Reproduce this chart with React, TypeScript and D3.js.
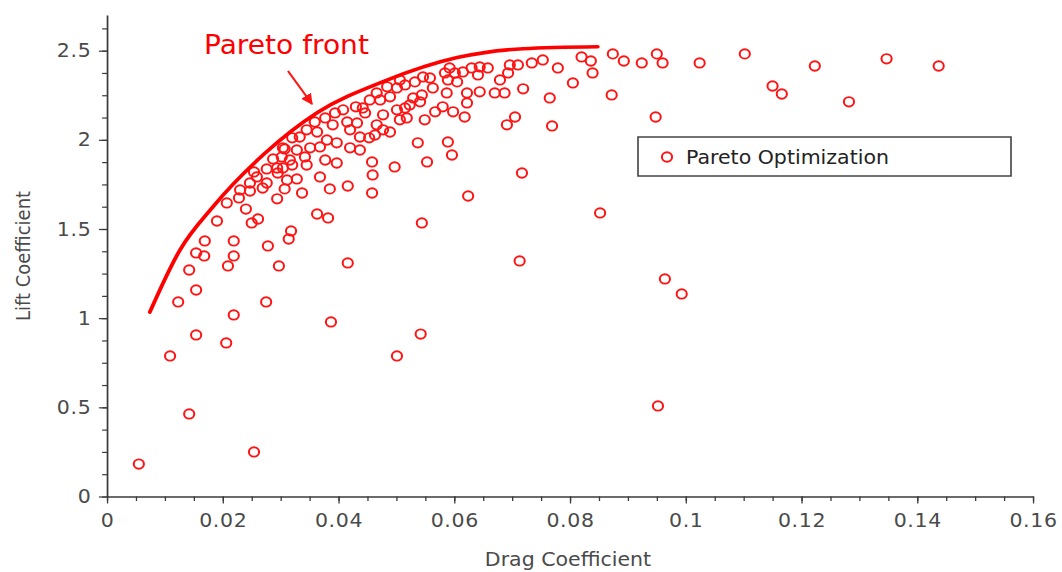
import React, { useEffect, useRef } from "react";
import * as d3 from "d3";

// Evaluated designs: drag coefficient vs lift coefficient
const dragCoefficient = [
  0.0055, 0.0142, 0.0254, 0.0109, 0.0154, 0.0206, 0.0219, 0.0123, 0.0154, 0.0275,
  0.0387, 0.0501, 0.0542, 0.0952, 0.0964, 0.0993, 0.0713, 0.0416, 0.0297, 0.0209,
  0.0142, 0.0154, 0.0168, 0.0169, 0.0219, 0.0219, 0.0278, 0.0314, 0.0318, 0.019,
  0.025, 0.0261, 0.024, 0.0207, 0.0228, 0.0363, 0.0382, 0.0544, 0.0852, 0.0624,
  0.0717, 0.0294, 0.023, 0.0247, 0.0247, 0.0269, 0.0276, 0.0307, 0.0311, 0.0254,
  0.0276, 0.0294, 0.0295, 0.0287, 0.0302, 0.0307, 0.0259, 0.0328, 0.0337, 0.0368,
  0.0385, 0.0416, 0.0458, 0.0459, 0.0497, 0.0458, 0.042, 0.0437, 0.0377, 0.0397,
  0.0345, 0.0363, 0.038, 0.0397, 0.0368, 0.0351, 0.0328, 0.0342, 0.0316, 0.0304,
  0.032, 0.0408, 0.043, 0.0446, 0.0466, 0.0484, 0.0501, 0.0515, 0.0472, 0.0489,
  0.0454, 0.0394, 0.0377, 0.0359, 0.0345, 0.0333, 0.032, 0.0304, 0.0415, 0.0432,
  0.042, 0.0437, 0.0453, 0.0466, 0.0477, 0.0489, 0.0463, 0.0477, 0.0442, 0.0501,
  0.0506, 0.0518, 0.0515, 0.0506, 0.0532, 0.0546, 0.0558, 0.0584, 0.0592, 0.0601,
  0.0605, 0.0589, 0.0615, 0.063, 0.0644, 0.0641, 0.0658, 0.0696, 0.071, 0.0693,
  0.0679, 0.0734, 0.0753, 0.0544, 0.0529, 0.0541, 0.0563, 0.0523, 0.0549, 0.0567,
  0.058, 0.0598, 0.0618, 0.0622, 0.0622, 0.0644, 0.067, 0.0687, 0.0719, 0.0587,
  0.0705, 0.0691, 0.0765, 0.0537, 0.0589, 0.0596, 0.0769, 0.0553, 0.0779, 0.082,
  0.0836, 0.0839, 0.0805, 0.0874, 0.0893, 0.0924, 0.095, 0.096, 0.0872, 0.0948,
  0.1024, 0.1102, 0.115, 0.1166, 0.1223, 0.1282, 0.1347, 0.1437, 0.039,
];
const liftCoefficient = [
  0.182, 0.463, 0.25, 0.788, 0.906, 0.861, 1.018, 1.091, 1.158, 1.091,
  0.979, 0.788, 0.911, 0.508, 1.22, 1.136, 1.321, 1.31, 1.293, 1.293,
  1.27, 1.366, 1.349, 1.433, 1.349, 1.433, 1.405, 1.444, 1.489, 1.545,
  1.534, 1.556, 1.612, 1.646, 1.674, 1.584, 1.562, 1.534, 1.59, 1.685,
  1.814, 1.669, 1.719, 1.713, 1.758, 1.73, 1.758, 1.725, 1.775, 1.82,
  1.837, 1.842, 1.814, 1.893, 1.904, 1.949, 1.792, 1.781, 1.702, 1.792,
  1.725, 1.741, 1.702, 1.803, 1.848, 1.876, 1.955, 1.943, 1.887, 1.87,
  1.859, 2.044, 1.999, 1.983, 1.96, 1.955, 1.943, 1.904, 1.887, 1.842,
  1.859, 2.168, 2.185, 2.151, 2.263, 2.297, 2.291, 2.308, 2.224, 2.241,
  2.224, 2.151, 2.123, 2.1, 2.056, 2.016, 2.011, 1.955, 2.1, 2.095,
  2.056, 2.016, 2.011, 2.084, 2.056, 2.044, 2.027, 2.14, 2.179, 2.168,
  2.112, 2.123, 2.179, 2.336, 2.325, 2.353, 2.347, 2.375, 2.403, 2.375,
  2.325, 2.336, 2.381, 2.403, 2.409, 2.364, 2.403, 2.42, 2.42, 2.375,
  2.336, 2.431, 2.448, 2.252, 2.235, 2.213, 2.291, 2.196, 2.112, 2.157,
  2.185, 2.157, 2.128, 2.207, 2.263, 2.269, 2.263, 2.263, 2.286, 2.263,
  2.128, 2.084, 2.235, 1.983, 1.988, 1.915, 2.078, 1.876, 2.403, 2.465,
  2.442, 2.375, 2.319, 2.482, 2.442, 2.431, 2.482, 2.431, 2.252, 2.128,
  2.431, 2.482, 2.302, 2.257, 2.414, 2.213, 2.454, 2.414, 2.084,
];

// Pareto front envelope
const frontDrag = [0.0074, 0.0126, 0.0183, 0.027, 0.0363, 0.0477, 0.0605, 0.0719, 0.0848];
const frontLift = [1.034, 1.382, 1.624, 1.916, 2.152, 2.326, 2.461, 2.511, 2.522];

const xTicks = [0, 0.02, 0.04, 0.06, 0.08, 0.1, 0.12, 0.14, 0.16];
const xTickLabels = ["0", "0.02", "0.04", "0.06", "0.08", "0.1", "0.12", "0.14", "0.16"];
const yTicks = [0, 0.5, 1, 1.5, 2, 2.5];
const yTickLabels = ["0", "0.5", "1", "1.5", "2", "2.5"];

const W = 1062;
const H = 572;
const SX = 1.08; // horizontal stretch of the whole drawing
const FONT = "'DejaVu Sans', Verdana, sans-serif";
const RED = "#ff1414";
const AXIS = "#3a3a3a";
const LABEL = "#4a4a4a";

const x = d3.scaleLinear().domain([0, 0.16]).range([107 / SX, 1033 / SX]);
const y = d3.scaleLinear().domain([0, 2.7]).range([496.5, 15]);

export default function App() {
  const xAxisRef = useRef<SVGGElement>(null);
  const yAxisRef = useRef<SVGGElement>(null);

  useEffect(() => {
    const xMinor = d3.range(0, 0.16 + 1e-9, 0.005);
    const yMinor = d3.range(0, 2.7 + 1e-9, 0.125);

    const gx = d3.select(xAxisRef.current);
    gx.selectAll("*").remove();
    gx.append("g")
      .call(d3.axisBottom(x).tickValues(xMinor).tickSize(4.5).tickSizeOuter(0).tickFormat(() => ""))
      .call((g) => g.select(".domain").remove());
    gx.append("g")
      .call(
        d3
          .axisBottom(x)
          .tickValues(xTicks)
          .tickSize(7)
          .tickSizeOuter(0)
          .tickPadding(10)
          .tickFormat((_, i) => xTickLabels[i])
      );
    gx.selectAll("line").attr("stroke", AXIS).attr("stroke-width", 1.2);
    gx.selectAll(".domain").attr("stroke", AXIS).attr("stroke-width", 1.6);
    gx.selectAll("text")
      .attr("fill", LABEL)
      .attr("font-size", 19)
      .attr("font-family", FONT)
      .attr("letter-spacing", 0.6);

    const gy = d3.select(yAxisRef.current);
    gy.selectAll("*").remove();
    gy.append("g")
      .call(d3.axisLeft(y).tickValues(yMinor).tickSize(4.5).tickSizeOuter(0).tickFormat(() => ""))
      .call((g) => g.select(".domain").remove());
    gy.append("g")
      .call(
        d3
          .axisLeft(y)
          .tickValues(yTicks)
          .tickSize(7.5)
          .tickSizeOuter(0)
          .tickPadding(7)
          .tickFormat((_, i) => yTickLabels[i])
      );
    gy.selectAll("line").attr("stroke", AXIS).attr("stroke-width", 1.2);
    gy.selectAll(".domain").attr("stroke", AXIS).attr("stroke-width", 1.6);
    gy.selectAll("text")
      .attr("fill", LABEL)
      .attr("font-size", 19)
      .attr("font-family", FONT)
      .attr("letter-spacing", 0.6);
  }, []);

  const frontLine = d3
    .line<number>()
    .x((d) => x(d))
    .y((_, i) => y(frontLift[i]))
    .curve(d3.curveMonotoneX);

  return (
    <svg
      width={W}
      height={H}
      style={{ position: "absolute", left: 0, top: 0, background: "#fff" }}
    >
      <defs>
        <marker
          id="arrowHead"
          viewBox="0 0 10 10"
          refX={9}
          refY={5}
          markerWidth={11}
          markerHeight={11}
          markerUnits="userSpaceOnUse"
          orient="auto"
        >
          <path d="M0,0 L10,5 L0,10 z" fill={RED} />
        </marker>
      </defs>
      <g transform={`scale(${SX},1)`}>
        {/* data points */}
        <g fill="none" stroke={RED} strokeWidth={1.9}>
          {dragCoefficient.map((d, i) => (
            <circle key={i} cx={x(d)} cy={y(liftCoefficient[i])} r={4.7} />
          ))}
        </g>

        {/* Pareto front */}
        <path d={frontLine(frontDrag) ?? ""} fill="none" stroke="#ff0000" strokeWidth={3.6} strokeLinecap="round" />

        <text x={204 / SX} y={54} fill="#ff0000" fontSize={26} fontFamily={FONT}>
          Pareto front
        </text>
        <line
          x1={288 / SX}
          y1={71}
          x2={312 / SX}
          y2={104}
          stroke={RED}
          strokeWidth={2}
          markerEnd="url(#arrowHead)"
        />

        {/* axes */}
        <g ref={xAxisRef} transform="translate(0,496.5)" />
        <g ref={yAxisRef} transform={`translate(${107 / SX},0)`} />

        <text x={568 / SX} y={566} textAnchor="middle" fill={LABEL} fontSize={19} fontFamily={FONT}>
          Drag Coefficient
        </text>
        <text
          transform={`translate(${30 / SX},256) rotate(-90)`}
          textAnchor="middle"
          fill={LABEL}
          fontSize={18}
          fontFamily={FONT}
        >
          Lift Coefficient
        </text>

        {/* legend */}
        <rect
          x={638 / SX}
          y={137}
          width={(1011 - 638) / SX}
          height={39}
          fill="#fff"
          stroke="#444"
          strokeWidth={1.5}
        />
        <circle cx={667 / SX} cy={157} r={4.7} fill="none" stroke={RED} strokeWidth={1.9} />
        <text x={686 / SX} y={157} dy="0.36em" fill="#222" fontSize={19} fontFamily={FONT}>
          Pareto Optimization
        </text>
      </g>
    </svg>
  );
}
